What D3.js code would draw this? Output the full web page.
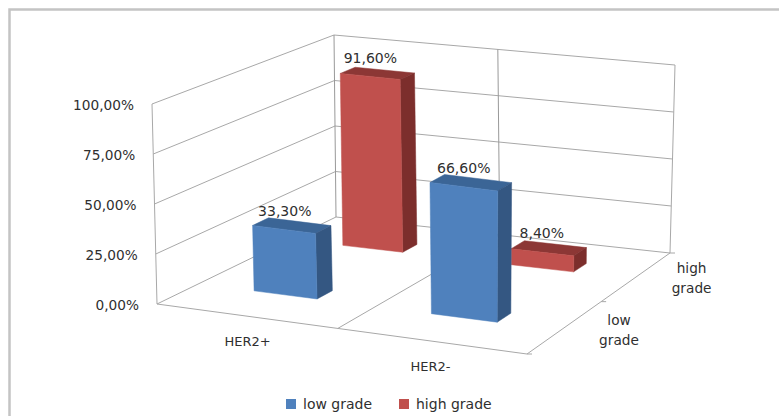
<!DOCTYPE html>
<html>
<head>
<meta charset="utf-8">
<script src="https://cdn.jsdelivr.net/npm/d3@7"></script>
<style>
    html, body { margin: 0; padding: 0; background: #fff; overflow: hidden; }
    text { font-family: "DejaVu Sans", sans-serif; font-size: 13.7px; fill: #2f2f2f; }
</style>
</head>
<body>
<svg id="chart" width="779" height="416"></svg>
<script>
var categories = ["HER2+", "HER2-"]
var seriesNames = ["low grade", "high grade"]
var lowGrade = [33.3, 66.6]
var highGrade = [91.6, 8.4]
var valueTicks = [0, 25, 50, 75, 100]
var valueLabels = ["0,00%", "25,00%", "50,00%", "75,00%", "100,00%"]

var colors = {
    "low grade": {front: "#4f81bd", side: "#345782", top: "#3b6596"},
    "high grade": {front: "#c0504d", side: "#7c2e2c", top: "#8c3735"}
}

var svg = d3.select("#chart")

// the chart box: corners of the floor and the 100% level, in screen pixels
var floorQuad = [[157, 304], [527, 354], [670, 253], [336, 217]]
var ceilQuad = [[152, 104], [531, 155], [675, 65], [334, 35]]

// maps the unit square onto a quad, half way between flat and full perspective
function quadMap(q) {
    var dx1 = q[1][0] - q[2][0], dx2 = q[3][0] - q[2][0], sx = q[0][0] - q[1][0] + q[2][0] - q[3][0]
    var dy1 = q[1][1] - q[2][1], dy2 = q[3][1] - q[2][1], sy = q[0][1] - q[1][1] + q[2][1] - q[3][1]
    var den = dx1 * dy2 - dx2 * dy1
    var g = (sx * dy2 - dx2 * sy) / den
    var h = (dx1 * sy - sx * dy1) / den
    var a = q[1][0] - q[0][0] + g * q[1][0], b = q[3][0] - q[0][0] + h * q[3][0]
    var d = q[1][1] - q[0][1] + g * q[1][1], e = q[3][1] - q[0][1] + h * q[3][1]
    return function(u, v) {
        var w = g * u + h * v + 1
        var flat = [0, 1].map(k => (1 - v) * ((1 - u) * q[0][k] + u * q[1][k]) + v * ((1 - u) * q[3][k] + u * q[2][k]))
        return [((a * u + b * v + q[0][0]) / w + flat[0]) / 2, ((d * u + e * v + q[0][1]) / w + flat[1]) / 2]
    }
}

var floorMap = quadMap(floorQuad)
var ceilMap = quadMap(ceilQuad)

var xScale = d3.scaleBand().domain(categories).range([0, 1]).paddingInner(0.64).paddingOuter(0.331).align(0.485)
var depthScale = d3.scaleBand().domain(seriesNames).range([0, 1]).paddingInner(0.827).paddingOuter(0.394).align(0.55)
var yScale = d3.scaleLinear().domain([0, 100]).range([0, 1])

function project(u, v, value) {
    var t = yScale(value)
    var p0 = floorMap(u, v), p1 = ceilMap(u, v)
    return [p0[0] + (p1[0] - p0[0]) * t, p0[1] + (p1[1] - p0[1]) * t]
}

function poly(points, fill, stroke) {
    svg.append("polygon")
       .attr("points", points.map(p => p.join(",")).join(" "))
       .attr("fill", fill)
       .attr("stroke", stroke || fill)
       .attr("stroke-width", 0.5)
}

function line3d(a, b, color) {
    svg.append("line")
       .attr("x1", a[0]).attr("y1", a[1])
       .attr("x2", b[0]).attr("y2", b[1])
       .attr("stroke", color || "#a8a8a8")
       .attr("stroke-width", 1)
}

// outer frame (only top and left are in the picture)
svg.append("path")
   .attr("d", "M9.5,416V9.5H779")
   .attr("fill", "none")
   .attr("stroke", "#c4c4c4")
   .attr("stroke-width", 2.5)

// walls and floor
valueTicks.forEach(function(t) {
    line3d(project(0, 0, t), project(0, 1, t))
    line3d(project(0, 1, t), project(1, 1, t))
})
line3d(project(0, 0, 0), project(0, 0, 100))
line3d(project(0, 1, 0), project(0, 1, 100), "#999")
line3d(project(0.5, 1, 0), project(0.5, 1, 100), "#999")
line3d(project(1, 1, 0), project(1, 1, 100))
line3d(project(0, 0, 0), project(1, 0, 0))
line3d(project(1, 0, 0), project(1, 1, 0))
line3d(project(0.5, 0, 0), project(0.5, 1, 0))

// little ticks on the depth axis
;[0, 0.5, 1].forEach(function(v) {
    var p = project(1, v, 0)
    line3d(p, [p[0] + 5, p[1]])
})

function drawBar(category, series, value) {
    var x0 = xScale(category), x1 = x0 + xScale.bandwidth()
    var v0 = depthScale(series), v1 = v0 + depthScale.bandwidth()
    var c = colors[series]
    poly([project(x0, v0, value), project(x1, v0, value), project(x1, v1, value), project(x0, v1, value)], c.top)
    poly([project(x1, v0, 0), project(x1, v1, 0), project(x1, v1, value), project(x1, v0, value)], c.side)
    poly([project(x0, v0, 0), project(x1, v0, 0), project(x1, v0, value), project(x0, v0, value)], c.front)
}

function barLabel(category, series, value) {
    var u = xScale(category) + xScale.bandwidth() / 2
    var v = depthScale(series) + depthScale.bandwidth() / 2
    var p = project(u, v, value)
    svg.append("text")
       .attr("x", p[0] - 7)
       .attr("y", p[1] - 10)
       .attr("text-anchor", "middle")
       .style("font-size", "14px")
       .text(String(value.toFixed(2)).replace(".", ",") + "%")
}

// back row first so the front row covers it
categories.forEach((c, i) => drawBar(c, "high grade", highGrade[i]))
categories.forEach((c, i) => drawBar(c, "low grade", lowGrade[i]))
categories.forEach((c, i) => barLabel(c, "high grade", highGrade[i]))
categories.forEach((c, i) => barLabel(c, "low grade", lowGrade[i]))

// value axis labels
valueTicks.forEach(function(t, i) {
    var p = project(0, 0, t)
    svg.append("text")
       .attr("x", p[0] - 18)
       .attr("y", p[1] + 6)
       .attr("text-anchor", "end")
       .text(valueLabels[i])
})

// category labels
categories.forEach(function(c) {
    var p = project(xScale(c) + xScale.bandwidth() / 2, 0, 0)
    svg.append("text")
       .attr("x", p[0] + 2)
       .attr("y", p[1] + 30)
       .attr("text-anchor", "middle")
       .style("font-size", "13px")
       .text(c)
})

// depth labels, two lines each
seriesNames.forEach(function(s) {
    var p = project(1, depthScale(s) + depthScale.bandwidth() / 2, 0)
    var label = svg.append("text").attr("text-anchor", "middle")
    s.split(" ").forEach(function(word, i) {
        label.append("tspan")
             .attr("x", p[0] + 52)
             .attr("y", p[1] - 1 + i * 20)
             .text(word)
    })
})

// legend
var legendX = [286, 399]
seriesNames.forEach(function(s, i) {
    svg.append("rect")
       .attr("x", legendX[i]).attr("y", 399)
       .attr("width", 10).attr("height", 10)
       .attr("fill", colors[s].front)
    svg.append("text")
       .attr("x", legendX[i] + 17)
       .attr("y", 409)
       .style("font-size", "14px")
       .text(s)
})
</script>
</body>
</html>
